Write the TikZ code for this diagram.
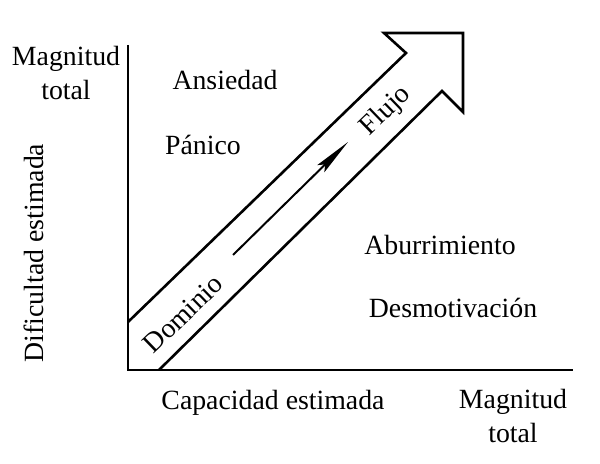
\documentclass[tikz,border=0pt]{standalone}
\usepackage{fontspec}
\setmainfont{Liberation Serif}
\usetikzlibrary{arrows.meta}

\tikzset{
  etiq/.style={inner sep=0pt,font=\fontsize{13.9}{16.8}\selectfont},
  eje/.style={line width=1.4pt},
  banda/.style={line width=1.3pt,line join=miter}
}

\begin{document}
\begin{tikzpicture}[x=0.5pt,y=0.5pt]
  \useasboundingbox (0,0) rectangle (600,464);
  % ejes
  \draw[eje] (128,419)--(128,94)--(573,94);
  % la flecha grande
  \draw[banda] (128,142)--(406,411)--(384,431)--(463,431)--(463,352)--(442,373)--(159,94);
  \coordinate (ini) at (233,209);
  \coordinate (fin) at (348,322);
  \draw[line width=1pt,-{Stealth[length=19pt,width=5pt,inset=3pt]}] (ini)--(fin);

  \node[etiq,align=center] (magy) at (66,391) {Magnitud\\total};
  \node[etiq,rotate=90] (dif) at (34,211) {Dificultad estimada};
  \node[etiq] (cap) at (273,61) {Capacidad estimada};
  \node[etiq,align=center] (magx) at (513,48) {Magnitud\\total};

  \node[etiq] (ansiedad) at (225,384) {Ansiedad};
  \node[etiq] (panico) at (203,319) {Pánico};
  \node[etiq] (aburr) at (440,219) {Aburrimiento};
  \node[etiq] (desmot) at (453,156) {Desmotivación};
  \node[etiq,rotate=44] (dominio) at (183,150) {Dominio};
  \node[etiq,rotate=44] (flujo) at (386,353) {Flujo};
\end{tikzpicture}
\end{document}
